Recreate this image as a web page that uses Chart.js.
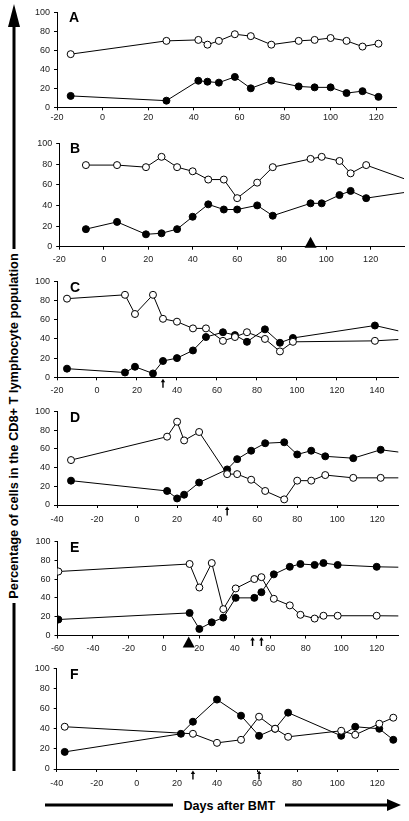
<!DOCTYPE html>
<html><head><meta charset="utf-8">
<script src="https://cdn.jsdelivr.net/npm/chart.js@4.4.1/dist/chart.umd.min.js"></script>
<style>
html,body{margin:0;padding:0;background:#fff;width:409px;height:821px;overflow:hidden;position:relative;font-family:Arial,"Liberation Sans",sans-serif;}
canvas.panel{position:absolute;left:0;}
.lbl{position:absolute;font-weight:bold;font-size:14px;line-height:14px;color:#000;}
.title{position:absolute;font-weight:bold;white-space:nowrap;color:#000;transform-origin:50% 50%;}
svg{position:absolute;left:0;top:0;}
</style></head><body>
<svg width="409" height="821">
  <polygon points="14,4 8,27 20,27" fill="#000"/>
  <rect x="12.5" y="26" width="3" height="223" fill="#000"/>
  <rect x="12.5" y="603" width="3" height="168" fill="#000"/>
  <rect x="45" y="803.5" width="128" height="3" fill="#000"/>
  <rect x="285" y="803.5" width="103" height="3" fill="#000"/>
  <polygon points="401,805 387,799 387,811" fill="#000"/>
</svg>
<div id="ytitle" class="title" style="font-size:12px;">Percentage of cells in the CD8+ T lymphocyte population</div>
<div id="xtitle" class="title" style="font-size:13px;">Days after BMT</div>
<script>
// ---------- DATA ----------
const yTicks = [0, 20, 40, 60, 80, 100];

const aDays   = [-14, 28, 42, 46, 51, 58, 65, 74, 86, 93, 100, 107, 114, 121];
const aOpen   = [56, 70, 71, 66, 70, 77, 75, 66, 70, 71, 73, 70, 64, 67];
const aFilled = [12, 7, 28, 27, 26, 32, 20, 28, 22, 21, 21, 15, 17, 11];
const aTicks  = [-20, 0, 20, 40, 60, 80, 100, 120];

const bDays   = [-8, 6, 19, 26, 33, 40, 47, 54, 60, 69, 76, 93, 98, 106, 111, 118, 140];
const bOpen   = [79, 79, 77, 87, 77, 73, 65, 65, 47, 62, 77, 85, 87, 83, 71, 79, 62];
const bFilled = [17, 24, 12, 13, 17, 29, 41, 36, 36, 40, 30, 42, 42, 50, 54, 47, 54];
const bTicks  = [-20, 0, 20, 40, 60, 80, 100, 120];
const bTriangles = [93];

const cDays   = [-15, 14, 19, 28, 33, 40, 48, 54.5, 63, 69, 75, 84, 91.5, 98, 139, 160];
const cOpen   = [82, 86, 66, 86, 61, 58, 51, 51, 38, 42, 47, 40, 27, 37, 38, 40.5];
const cFilled = [9, 5, 11, 4, 17, 20, 28, 42, 47, 44, 37, 50, 36, 41, 54, 44];
const cTicks  = [-20, 0, 20, 40, 60, 80, 100, 120, 140];
const cArrows = [33];

const dDays   = [-33, 15, 20, 23.5, 31, 45, 50, 57, 64, 73.5, 80, 87, 94, 108, 121.7, 140];
const dOpen   = [48, 73, 89, 69, 78, 33, 33, 27, 15, 6, 26, 26, 32, 29, 29, 29];
const dFilled = [26, 15, 7, 11, 24, 38, 49, 58, 66, 67, 54, 58, 52, 50, 59, 54];
const dTicks  = [-40, -20, 0, 20, 40, 60, 80, 100, 120];
const dArrows = [45];

const eDays   = [-59.5, 14.5, 20, 27, 33.5, 40.5, 51, 55, 62, 71, 77, 85, 90, 98, 120, 150];
const eOpen   = [68, 76, 51, 77, 28, 50, 60, 62, 39, 32, 22, 18, 21, 21, 21, 20.5];
const eFilled = [17, 24, 7, 14, 19, 40, 40, 46, 65, 73, 76, 75, 77, 75, 73, 72];
const eTicks  = [-60, -40, -20, 0, 20, 40, 60, 80, 100, 120];
const eTriangles = [14];
const eArrows = [50, 55];

const fDays   = [-36, 22, 28, 40, 52, 61, 69, 75.5, 102, 109, 121, 128];
const fOpen   = [42, null, 35, 26, 29, 52, 40, 32, 38, 34, 45, 51];
const fFilled = [17, 35, 47, 69, 53, 33, 40, 56, 33, 42, 40, 29];
const fTicks  = [-40, -20, 0, 20, 40, 60, 80, 100, 120];
const fArrows = [28, 61];

// ---------- LAYOUT ----------
const panels = [
  {letter:'A', days:aDays, open:aOpen, filled:aFilled, ticks:aTicks, min:-20, max:129, top:11.7, bottom:107.3, left:57, right:396.7, lp:1.6, tris:[], arrows:[]},
  {letter:'B', days:bDays, open:bOpen, filled:bFilled, ticks:bTicks, min:-20, max:135, top:142.3, bottom:246.7, left:59.2, right:406.7, lp:4.2, tris:bTriangles, triOff:-10, arrows:[]},
  {letter:'C', days:cDays, open:cOpen, filled:cFilled, ticks:cTicks, min:-20, max:150.7, top:280, bottom:377.3, left:57, right:398.3, lp:5.3, tris:[], arrows:cArrows},
  {letter:'D', days:dDays, open:dOpen, filled:dFilled, ticks:dTicks, min:-40, max:130.5, top:410, bottom:505, left:57, right:398.3, lp:6.6, tris:[], arrows:dArrows},
  {letter:'E', days:eDays, open:eOpen, filled:eFilled, ticks:eTicks, min:-60, max:132.2, top:540, bottom:635.5, left:57.5, right:398.3, lp:4.6, tris:eTriangles, triOff:1, arrows:eArrows},
  {letter:'F', days:fDays, open:fOpen, filled:fFilled, ticks:fTicks, min:-40, max:130.5, top:667.7, bottom:769, left:56.7, right:398.3, lp:6.6, tris:[], arrows:fArrows}
];
const letterTops = [9.8, 141.4, 279.8, 410, 540, 667];

const markerPlugin = {
  id: 'markers',
  afterDraw(chart, args, opts) {
    const ctx = chart.ctx, xs = chart.scales.x, ys = chart.scales.y;
    const y0 = ys.getPixelForValue(0);
    ctx.save();
    ctx.fillStyle = '#000'; ctx.strokeStyle = '#000';
    (opts.tris || []).forEach(v => {
      const px = xs.getPixelForValue(v);
      const apex = y0 + opts.triOff;
      ctx.beginPath();
      ctx.moveTo(px, apex); ctx.lineTo(px - 6, apex + 11); ctx.lineTo(px + 6, apex + 11);
      ctx.closePath(); ctx.fill();
    });
    (opts.arrows || []).forEach(v => {
      const px = xs.getPixelForValue(v);
      const tip = y0 + 1.5;
      ctx.beginPath();
      ctx.moveTo(px, tip); ctx.lineTo(px - 2.2, tip + 3.5); ctx.lineTo(px + 2.2, tip + 3.5);
      ctx.closePath(); ctx.fill();
      ctx.lineWidth = 1.4;
      ctx.beginPath(); ctx.moveTo(px, tip + 3); ctx.lineTo(px, tip + 9); ctx.stroke();
    });
    ctx.restore();
  }
};

const fontFam = 'Arial, "Liberation Sans", sans-serif';

panels.forEach((p, i) => {
  const canvasTop = Math.floor(p.top) - 8;
  const canvasH = Math.ceil(p.bottom) + 24 - canvasTop;
  const padTop = p.top - canvasTop;
  const xAxisH = canvasH - (p.bottom - canvasTop);
  const cv = document.createElement('canvas');
  cv.className = 'panel';
  cv.width = 409; cv.height = canvasH;
  cv.style.top = canvasTop + 'px';
  document.body.appendChild(cv);

  const lbl = document.createElement('div');
  lbl.className = 'lbl';
  lbl.textContent = p.letter;
  lbl.style.left = (p.letter === 'A' ? 69 : 70) + 'px';
  lbl.style.top = letterTops[i] + 'px';
  document.body.appendChild(lbl);

  const mk = (vals) => p.days.map((d, k) => ({x: d, y: vals[k]}));
  new Chart(cv, {
    type: 'line',
    data: {
      datasets: [
        {data: mk(p.open), borderColor: '#000', borderWidth: 1, backgroundColor: '#fff',
         pointBackgroundColor: '#fff', pointBorderColor: '#000', pointBorderWidth: 1, pointRadius: 3.5,
         tension: 0, spanGaps: true, order: 0},
        {data: mk(p.filled), borderColor: '#000', borderWidth: 1, backgroundColor: '#000',
         pointBackgroundColor: '#000', pointBorderColor: '#000', pointBorderWidth: 1, pointRadius: 3.5,
         tension: 0, spanGaps: true, order: 1}
      ]
    },
    options: {
      responsive: false, animation: false, events: [],
      layout: {padding: {top: padTop, right: 409 - p.right, left: 0, bottom: 0}},
      plugins: {legend: {display: false}, tooltip: {enabled: false},
                markers: {tris: p.tris, triOff: p.triOff || 0, arrows: p.arrows}},
      scales: {
        x: {type: 'linear', min: p.min, max: p.max,
            afterBuildTicks: s => { s.ticks = p.ticks.map(v => ({value: v})); },
            afterFit: s => { s.height = xAxisH; },
            grid: {drawOnChartArea: false, drawTicks: true, tickLength: 3, color: '#000'},
            border: {display: true, color: '#000', width: 1},
            ticks: {color: '#222', font: {size: 9, family: fontFam}, padding: p.lp, maxRotation: 0, autoSkip: false}},
        y: {type: 'linear', min: 0, max: 100,
            afterBuildTicks: s => { s.ticks = yTicks.map(v => ({value: v})); },
            afterFit: s => { s.width = p.left; },
            grid: {drawOnChartArea: false, drawTicks: true, tickLength: 3, color: '#000'},
            border: {display: true, color: '#000', width: 1},
            ticks: {color: '#222', font: {size: 9, family: fontFam}, padding: 4}}
      }
    },
    plugins: [markerPlugin]
  });
});

// titles
const yt = document.getElementById('ytitle');
const yw = yt.offsetWidth, yh = yt.offsetHeight;
yt.style.left = (14 - yw / 2) + 'px';
yt.style.top = (425.5 - yh / 2) + 'px';
yt.style.transform = 'rotate(-90deg) scaleX(' + (345 / yw) + ')';
const xt = document.getElementById('xtitle');
const xw = xt.offsetWidth, xh = xt.offsetHeight;
xt.style.left = (229 - xw / 2) + 'px';
xt.style.top = (805 - xh / 2) + 'px';
xt.style.transform = 'scaleX(' + (92 / xw) + ')';
</script>
</body></html>
